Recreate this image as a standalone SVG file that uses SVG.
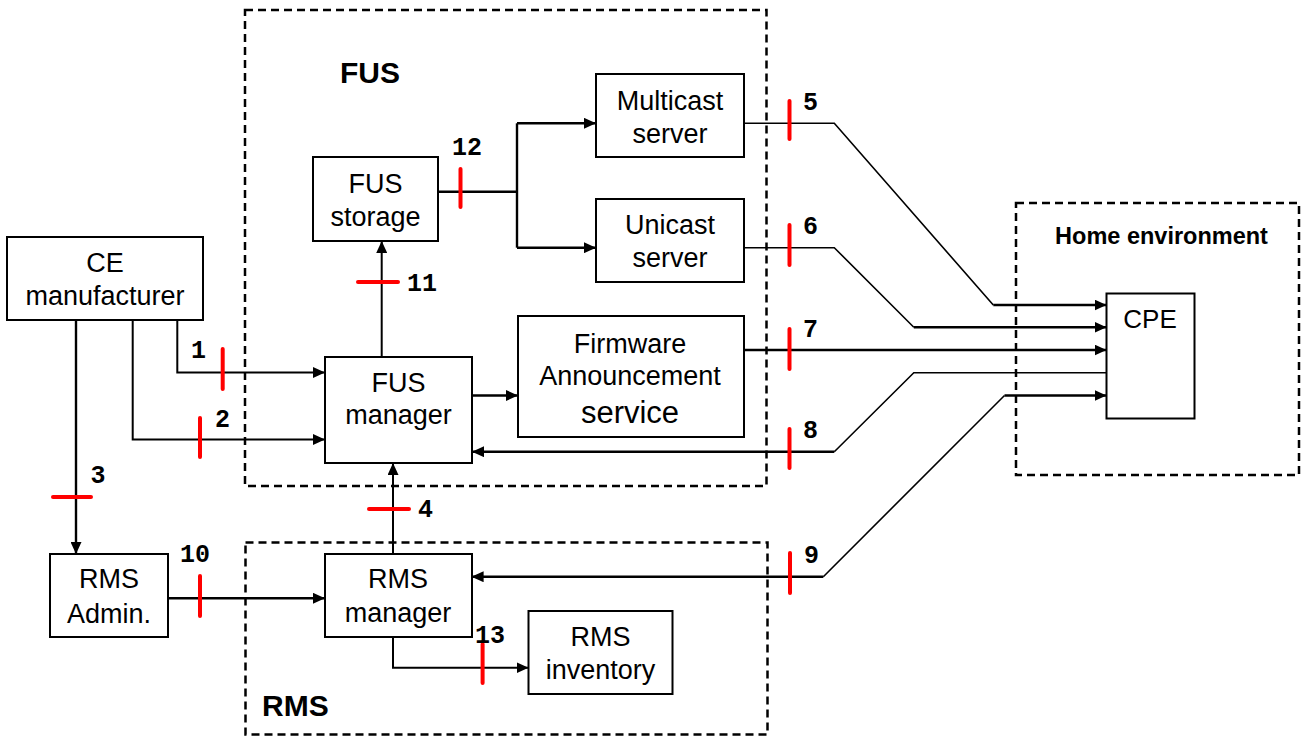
<svg xmlns="http://www.w3.org/2000/svg" width="1303" height="737" viewBox="0 0 1303 737">
<style>
.box{fill:#fff;stroke:#000;stroke-width:2}
.dash{fill:none;stroke:#000;stroke-width:2.5;stroke-dasharray:8 5}
.t{font-family:"Liberation Sans",Arial,sans-serif;font-size:27px;fill:#000;text-anchor:middle}
.big{font-family:"Liberation Sans",Arial,sans-serif;font-size:30px;font-weight:bold;fill:#000}
.home{font-family:"Liberation Sans",Arial,sans-serif;font-size:23.5px;font-weight:bold;fill:#000;text-anchor:middle}
.num{font-family:"Liberation Mono","Courier New",monospace;font-size:25px;font-weight:bold;fill:#000}
.c{fill:none;stroke:#000;stroke-width:2}
.thin{fill:none;stroke:#000;stroke-width:1.6}
.thick{fill:none;stroke:#000;stroke-width:2.4}
.tick{stroke:#ff0000;stroke-width:4;stroke-linecap:round}
</style>
<defs>
<marker id="ah" viewBox="0 0 12 11" refX="12" refY="5.5" markerWidth="12" markerHeight="11" markerUnits="userSpaceOnUse" orient="auto-start-reverse">
<path d="M0,0 L12,5.5 L0,11 z" fill="#000"/>
</marker>
</defs>
<rect width="1303" height="737" fill="#fff"/>

<g id="fus-domain">
<rect class="dash" x="245" y="10" width="521.5" height="476"/>
<text class="big" x="340" y="83">FUS</text>
</g>
<g id="rms-domain">
<rect class="dash" x="245.5" y="542.5" width="522" height="192"/>
<text class="big" x="262" y="716">RMS</text>
</g>
<g id="home-environment">
<rect class="dash" x="1016" y="203" width="283" height="272"/>
<text class="home" x="1161.5" y="244">Home environment</text>
</g>

<g id="connectors">
<!-- 1 -->
<path class="c" d="M177.3,320 V372.5 H325" marker-end="url(#ah)"/>
<!-- 2 -->
<path class="c" d="M132.7,320 V439.5 H325" marker-end="url(#ah)"/>
<!-- 3 -->
<path class="thick" d="M76,320 V554" marker-end="url(#ah)"/>
<!-- 4 -->
<path class="c" d="M393,554 V463" marker-end="url(#ah)"/>
<!-- 10 -->
<path class="thick" d="M168,598.3 H325" marker-end="url(#ah)"/>
<!-- 13 -->
<path class="c" d="M393,637 V667.7 H528.5" marker-end="url(#ah)"/>
<!-- 11 -->
<path class="c" d="M381.7,357 V241" marker-end="url(#ah)"/>
<!-- 12 -->
<path class="thick" d="M438,191.7 H517"/>
<path class="thick" d="M517,123.3 V247.7"/>
<path class="thick" d="M517,123.3 H596" marker-end="url(#ah)"/>
<path class="thick" d="M517,247.7 H596" marker-end="url(#ah)"/>
<!-- FUS manager to FAS -->
<path class="thick" d="M472,395.5 H518" marker-end="url(#ah)"/>
<!-- 5 -->
<path class="thin" d="M744,123.3 H834.3 L993.3,305"/>
<path class="thick" d="M993.3,305 H1106.5" marker-end="url(#ah)"/>
<!-- 6 -->
<path class="thin" d="M744,247.7 H834.3 L913.8,327.3"/>
<path class="thick" d="M913.8,327.3 H1106.5" marker-end="url(#ah)"/>
<!-- 7 -->
<path class="thick" d="M744,350 H1106.5" marker-end="url(#ah)"/>
<!-- 8 -->
<path class="thin" d="M1106.5,372.7 H913.8 L834.3,451.7"/>
<path class="thick" d="M834.3,451.7 H472" marker-end="url(#ah)"/>
<!-- 9 -->
<path class="thick" d="M1004.5,395.5 H1106.5" marker-end="url(#ah)"/>
<path class="thin" d="M1004.5,395.5 L823.3,576.7"/>
<path class="thick" d="M823.3,576.7 H471.6" marker-end="url(#ah)"/>

<!-- interface ticks -->
<line class="tick" x1="222.7" y1="349" x2="222.7" y2="389"/>
<line class="tick" x1="200" y1="418" x2="200" y2="457"/>
<line class="tick" x1="53" y1="497" x2="91" y2="497"/>
<line class="tick" x1="369" y1="509" x2="409" y2="509"/>
<line class="tick" x1="789.5" y1="101" x2="789.5" y2="139"/>
<line class="tick" x1="789.5" y1="225" x2="789.5" y2="265"/>
<line class="tick" x1="789.5" y1="329" x2="789.5" y2="369"/>
<line class="tick" x1="789.5" y1="429" x2="789.5" y2="468"/>
<line class="tick" x1="790" y1="553" x2="790" y2="593"/>
<line class="tick" x1="200" y1="576" x2="200" y2="616"/>
<line class="tick" x1="358" y1="282" x2="398" y2="282"/>
<line class="tick" x1="460.5" y1="169" x2="460.5" y2="207"/>
<line class="tick" x1="482.6" y1="644" x2="482.6" y2="683"/>

<text class="num" x="191" y="358">1</text>
<text class="num" x="215" y="427">2</text>
<text class="num" x="90.5" y="483">3</text>
<text class="num" x="418" y="517">4</text>
<text class="num" x="803" y="110">5</text>
<text class="num" x="803" y="234">6</text>
<text class="num" x="803" y="337">7</text>
<text class="num" x="803" y="438">8</text>
<text class="num" x="804" y="563">9</text>
<text class="num" x="180" y="562">10</text>
<text class="num" x="407" y="291">11</text>
<text class="num" x="452" y="155">12</text>
<text class="num" x="475" y="643">13</text>
</g>

<g id="ce-manufacturer">
<rect class="box" x="7" y="237" width="196" height="83"/>
<text class="t" x="105" y="272">CE</text>
<text class="t" x="105" y="305">manufacturer</text>
</g>
<g id="fus-storage">
<rect class="box" x="313" y="157" width="125" height="84"/>
<text class="t" x="375.5" y="193">FUS</text>
<text class="t" x="375.5" y="226">storage</text>
</g>
<g id="multicast-server">
<rect class="box" x="596" y="74" width="148" height="83"/>
<text class="t" x="670" y="110">Multicast</text>
<text class="t" x="670" y="143">server</text>
</g>
<g id="unicast-server">
<rect class="box" x="596" y="199" width="148" height="83"/>
<text class="t" x="670" y="233.5">Unicast</text>
<text class="t" x="670" y="266.5">server</text>
</g>
<g id="fus-manager">
<rect class="box" x="325" y="357" width="147" height="106"/>
<text class="t" x="398.5" y="392">FUS</text>
<text class="t" x="398.5" y="424">manager</text>
</g>
<g id="firmware-announcement-service">
<rect class="box" x="518" y="316" width="226" height="121"/>
<text class="t" x="630" y="353">Firmware</text>
<text class="t" x="630" y="384.5">Announcement</text>
<text class="t" x="630" y="423" style="font-size:31px">service</text>
</g>
<g id="cpe">
<rect class="box" x="1106.5" y="293.5" width="88" height="125"/>
<text class="t" x="1150" y="328" style="font-size:26px">CPE</text>
</g>
<g id="rms-admin">
<rect class="box" x="50" y="554" width="118" height="83"/>
<text class="t" x="109" y="588">RMS</text>
<text class="t" x="109" y="622.5">Admin.</text>
</g>
<g id="rms-manager">
<rect class="box" x="325" y="554" width="147" height="83"/>
<text class="t" x="398" y="588">RMS</text>
<text class="t" x="398" y="622">manager</text>
</g>
<g id="rms-inventory">
<rect class="box" x="528.5" y="611" width="144" height="83"/>
<text class="t" x="600.5" y="646">RMS</text>
<text class="t" x="600.5" y="679">inventory</text>
</g>
</svg>
